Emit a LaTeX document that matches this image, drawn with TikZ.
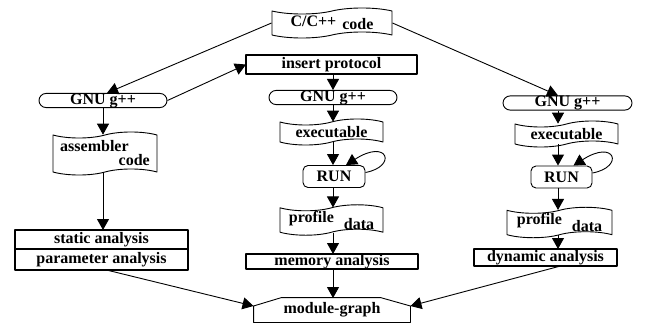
\documentclass[tikz,border=0pt]{standalone}
\usepackage{fontspec}
\setmainfont{Liberation Serif}
\usetikzlibrary{arrows.meta,calc,positioning,shapes.symbols,shapes.misc}
\tikzset{
  every picture/.style={line width=0.9pt, line join=round,
    >={Triangle[length=11pt,width=12pt]}},
  every node/.style={font=\fontsize{16}{17}\selectfont\bfseries, inner sep=0pt},
  % Knotenformen
  tapebox/.style={tape, draw, tape bend height=6pt, minimum width=#1},
  gnubox/.style={rounded rectangle, draw, minimum width=#1, minimum height=13pt},
  runbox/.style={rectangle, draw, rounded corners=5pt, minimum width=#1, minimum height=22pt},
  thickbox/.style={rectangle, draw, line width=2.6pt, outer sep=0pt, minimum width=#1},
}
\begin{document}
\begin{tikzpicture}[x=1pt, y=-1pt]
  \useasboundingbox (0,0) rectangle (655,326);
  % Spalten
  \coordinate (lcol) at (103,0);
  \coordinate (mcol) at (333,0);
  \coordinate (rcol) at (558,0);
  % Quelle
  \node[tapebox=120pt, minimum height=30pt] (code) at (332,23) {C/C++\hspace{6pt}\raisebox{-3pt}{code}};
  % linker Zweig
  \node[gnubox=128pt] (lgnu) at (103,100.5) {GNU g++};
  \node[tapebox=104pt, minimum height=43pt] (asm) at (105,153.5)
    {\raisebox{7pt}{assembler}\hspace{-10pt}\raisebox{-7pt}{code}};
  \node[thickbox=173pt, minimum height=19pt] (stat) at (101.5,239.5) {static analysis};
  \node[thickbox=173pt, minimum height=21pt, below=0pt of stat] (param) {parameter analysis};
  % mittlerer Zweig
  \node[thickbox=171pt, minimum height=19pt] (ins) at (331.5,64.5) {insert protocol};
  \node[gnubox=128pt] (mgnu) at (333,97.5) {GNU g++};
  \node[tapebox=103pt, minimum height=26pt] (mexe) at (331.5,132) {executable};
  \node[runbox=62pt] (mrun) at (334,176.5) {RUN};
  \node[tapebox=103pt, minimum height=27pt] (mprof) at (331.5,220)
    {\raisebox{3pt}{profile}\hspace{10pt}\raisebox{-4pt}{data}};
  \node[thickbox=172pt, minimum height=15pt] (mem) at (332,261.5) {memory analysis};
  % rechter Zweig
  \node[gnubox=129pt] (rgnu) at (567.5,103) {GNU g++};
  \node[tapebox=103pt, minimum height=26pt] (rexe) at (566.5,134) {executable};
  \node[runbox=61pt] (rrun) at (561.5,177) {RUN};
  \node[tapebox=105pt, minimum height=29pt] (rprof) at (559.5,222.5)
    {\raisebox{3pt}{profile}\hspace{10pt}\raisebox{-4pt}{data}};
  \node[thickbox=143pt, minimum height=17pt] (dyn) at (545.5,257.5) {dynamic analysis};
  % Ergebnis: oben abgeschraegt
  \node[minimum width=156pt, minimum height=24pt] (graph) at (332,310) {module-graph};
  \draw (graph.south west) -- ($(graph.west)+(0,-4)$) -- ($(graph.north west)+(28,0)$)
    -- ($(graph.north east)+(-30,0)$) -- ($(graph.east)+(0,-4)$) -- (graph.south east) -- cycle;
  % Verbindungen
  \draw[->] (code.west) -- ($(lgnu.north)+(4,0)$);
  \draw[->] (code.east) -- (rgnu.north -| rcol);
  \draw[->] (lgnu.east) -- (ins.west);
  \draw[->] (lgnu.south -| lcol) -- (asm.north -| lcol);
  \draw[->] (asm.south -| lcol) -- (stat.north -| lcol);
  \foreach \a/\b in {ins/mgnu, mgnu/mexe, mexe/mrun, mrun/mprof, mprof/mem}
    \draw[->] (\a.south -| mcol) -- (\b.north -| mcol);
  \draw[->] (mem.south -| mcol) -- ($(graph.north -| mcol)+(0,0.5)$);
  \foreach \a/\b in {rgnu/rexe, rexe/rrun, rrun/rprof, rprof/dyn}
    \draw[->] (\a.south -| rcol) -- (\b.north -| rcol);
  \draw[->] ($(param.south)+(5,0)$) -- ($(graph.west)+(0,-4)$);
  \draw[->] ($(dyn.south)+(15,0)$) -- ($(graph.east)+(0,-4)$);
  % Schleifen
  \foreach \r in {mrun, rrun}
    \draw[->] ($(\r.east)+(0,-4)$) .. controls +(32,-6) and +(42,-27) .. ($(\r.north)+(12,0)$);
\end{tikzpicture}
\end{document}
